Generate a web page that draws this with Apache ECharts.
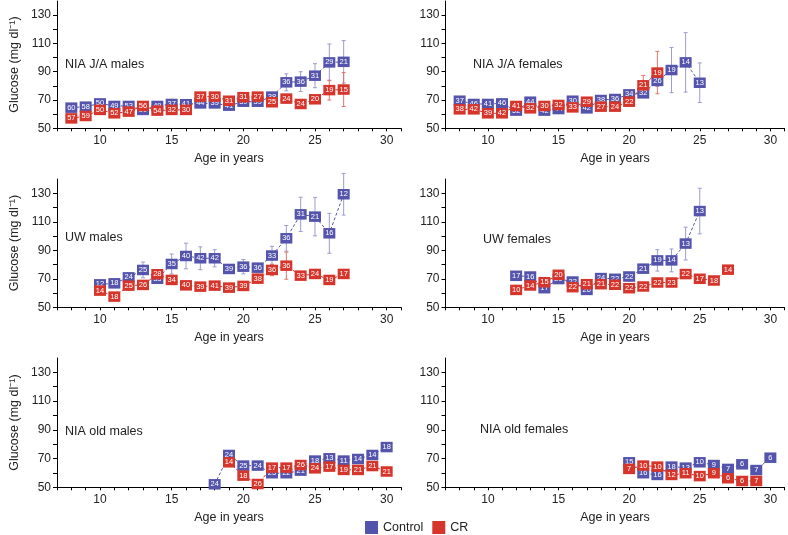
<!DOCTYPE html>
<html><head><meta charset="utf-8">
<script src="https://cdn.jsdelivr.net/npm/echarts@6/dist/echarts.min.js"></script>
<style>html,body{margin:0;padding:0;background:#fff}#c{width:788px;height:535px}</style>
</head><body><div id="c"></div>
<script>
// ---------- DATA ----------
// NIA J/A males
const njamAges = [8,9,10,11,12,13,14,15,16,17,18,19,20,21,22,23,24,25,26,27];
const njamCtrl = [64.6,65.3,67.6,65.8,65.8,63,65.8,67.2,67,67.6,67.6,66,68.8,68.8,72.4,82.5,83,87.2,96.6,97];
const njamCtrlN = [60,58,50,49,53,50,49,37,41,44,39,41,39,39,38,36,36,31,29,21];
const njamCtrlErr = [2,2,2,2,2,2,2,2,2,2,2,2,2,2,3,6,7,8.5,13,15];
const njamCR = [57,58.7,63,60.6,61.8,65.8,62.5,63,63,72.4,72.4,69.5,72,72.4,68.4,71,67.2,70.5,77,77.4];
const njamCRN = [57,59,50,52,47,56,54,32,30,37,30,31,31,27,25,24,24,20,19,15];
const njamCRErr = [2,2,2,2,2,2,2,2,2,2,2,2,2,2,2,3,3,2.5,7,12];

// NIA J/A females
const njafAges = [8,9,10,11,12,13,14,15,16,17,18,19,20,21,22,23,24,25];
const njafCtrl = [69.5,67.2,67.2,67.6,62.5,68.8,62.5,63.6,69.5,64.1,70,70.7,74,74.7,83.5,91.2,96.6,82.2];
const njafCtrlN = [37,46,41,46,52,44,42,44,30,42,38,36,34,32,26,19,14,13];
const njafCtrlErr = [2,2,3,2,2,2,2,2,2,2,2,2,2,2.5,4,16,21,14];
const njafCR = [63.4,63.4,60.6,60.6,65.8,64.1,65.8,66.5,64.8,68.8,65.3,65.3,68.8,80.4,89.4,null,null,null];
const njafCRN = [38,42,39,42,41,32,30,32,33,29,27,24,22,21,19,null,null,null];
const njafCRErr = [2,2,2,2,2,2,2,2,2,2,2,2,2,7,15,null,null,null];

// UW males
const uwmAges = [10,11,12,13,14,15,16,17,18,19,20,21,22,23,24,25,26,27];
const uwmCtrl = [66.1,66.8,71,76.2,70,80.4,86,84.4,84.4,76.9,78.5,77.8,86.3,98.4,115.2,113.6,101.9,129.3];
const uwmCtrlN = [12,18,24,25,33,35,40,42,42,39,36,36,33,36,31,21,16,12];
const uwmCtrlErr = [2,3,3,5.5,3,7,9,8,6,3,5,3,6.5,9,12,13.5,14,14.6];
const uwmCR = [61.7,57.5,65.2,65.7,73.2,69.2,65.4,64.5,65.2,63.8,65,70.1,76.2,79.2,72.2,73.4,69.2,73.4];
const uwmCRN = [14,18,25,26,28,34,40,39,41,39,39,38,36,36,33,24,19,17];
const uwmCRErr = [2,2,2,2,2,2,2,2,2,2,2,3,4,9.5,2.5,2.5,2.5,2];

// UW females
const uwfAges = [12,13,14,15,16,17,18,19,20,21,22,23,24,25,26,27];
const uwfCtrl = [72.1,71.6,63.4,69.8,68.1,62.2,70.5,70,71.6,77.1,82.9,82.9,94.7,117.5,null,null];
const uwfCtrlN = [17,16,17,20,22,20,24,22,22,21,19,14,13,13,null,null];
const uwfCtrlErr = [2,2,2,2,2,2,2,2,3,3,7.5,8,11.5,16,null,null];
const uwfCR = [62.2,65.3,67.6,72.8,64.1,66.2,66.2,65.8,63.4,64.6,67.4,67.4,73.3,70,68.8,76.4];
const uwfCRN = [10,14,15,20,22,21,21,22,22,22,22,23,22,17,18,14];
const uwfCRErr = [2,2,2,2,2,2,2,2,2,2,2,2,3,2,2,2];

// NIA old males
const nomAges = [18,19,20,21,22,23,24,25,26,27,28,29,30];
const nomCtrl = [52.1,72.5,65.1,65.1,59.8,59.8,61.6,68.6,70.2,68.6,69.7,72.5,78];
const nomCtrlN = [24,24,25,24,25,22,21,18,13,11,14,14,18];
const nomCtrlErr = [2,2,2,2,2,2,2,2,2,2,2,3,3];
const nomCR = [null,67.4,58.1,52.3,63.7,63.7,65.5,63.2,64.4,62.1,62.1,64.8,61];
const nomCRN = [null,14,18,26,17,17,26,24,17,19,21,21,21];
const nomCRErr = [null,2,2,2,2,2,2,2,2,2,2,2,2];

// NIA old females
const nofAges = [20,21,22,23,24,25,26,27,28,29,30];
const nofCtrl = [67.4,59.8,58.6,64.4,63.7,67.4,65.5,62.8,66,62,70.6];
const nofCtrlN = [15,16,16,18,13,10,9,7,6,7,6];
const nofCtrlErr = [2,2,2,2,2,2,2,2,2,2,2];
const nofCR = [62.8,65.1,64.4,58.6,59.8,57.8,59.8,56.3,54.4,54.4,null];
const nofCRN = [7,10,10,12,11,10,9,6,6,7,null];
const nofCRErr = [2,3,2,2,2,2,2,2,2,2,null];

const panelTitles = ['NIA J/A males','NIA J/A females','UW males','UW females','NIA old males','NIA old females'];
const xTickLabels = [10,15,20,25,30];
const yTickLabels = [50,70,90,110,130];

// ---------- BUILD ----------
const panels = [
  [njamAges,njamCtrl,njamCtrlN,njamCtrlErr,njamCR,njamCRN,njamCRErr],
  [njafAges,njafCtrl,njafCtrlN,njafCtrlErr,njafCR,njafCRN,njafCRErr],
  [uwmAges,uwmCtrl,uwmCtrlN,uwmCtrlErr,uwmCR,uwmCRN,uwmCRErr],
  [uwfAges,uwfCtrl,uwfCtrlN,uwfCtrlErr,uwfCR,uwfCRN,uwfCRErr],
  [nomAges,nomCtrl,nomCtrlN,nomCtrlErr,nomCR,nomCRN,nomCRErr],
  [nofAges,nofCtrl,nofCtrlN,nofCtrlErr,nofCR,nofCRN,nofCRErr]
];
const BLUE = '#5454ac', RED = '#d6352b', BLUE_E = '#9c9ccf', RED_E = '#e0766c';
const FONT = "'Liberation Sans', Arial, Helvetica, sans-serif";
const cols = [{left:57, width:344},{left:445.5, width:339}];
const rows = [{top:1, height:127.3},{top:179, height:128.3},{top:358, height:129.3}];
const titlePos = [[65,66],[473,66],[65,239],[483,241],[65,433],[480,431]];

const grids=[], xAxes=[], yAxes=[], series=[], graphics=[];
function errBar(color){
  return function(params, api){
    const x = api.value(0);
    const lo = api.coord([x, api.value(1)]);
    const hi = api.coord([x, api.value(2)]);
    const c = 2, st = {stroke: color, lineWidth: 1};
    return {type:'group', children:[
      {type:'line', shape:{x1:lo[0],y1:lo[1],x2:hi[0],y2:hi[1]}, style:st},
      {type:'line', shape:{x1:hi[0]-c,y1:hi[1],x2:hi[0]+c,y2:hi[1]}, style:st},
      {type:'line', shape:{x1:lo[0]-c,y1:lo[1],x2:lo[0]+c,y2:lo[1]}, style:st}
    ]};
  };
}
panels.forEach((p,i)=>{
  const col = cols[i%2], row = rows[Math.floor(i/2)];
  grids.push({left:col.left, width:col.width, top:row.top, height:row.height, containLabel:false});
  xAxes.push({type:'value', gridIndex:i, min:7, max:31, interval:1,
    name:'Age in years', nameLocation:'middle', nameGap:24,
    nameTextStyle:{fontSize:12.5, color:'#222', fontFamily:FONT},
    axisLine:{lineStyle:{color:'#000', width:1}},
    axisTick:{length:3, lineStyle:{color:'#000'}},
    axisLabel:{margin:6, fontSize:12, color:'#222', fontFamily:FONT,
      formatter:v=> xTickLabels.indexOf(v)>=0 ? String(v) : ''},
    splitLine:{show:false}});
  yAxes.push({type:'value', gridIndex:i, min:50, max:140, interval:10,
    name: i%2===0 ? 'Glucose (mg dl\u207B\u00B9)' : '', nameLocation:'middle', nameGap:36, nameRotate:90,
    nameTextStyle:{fontSize:12.5, color:'#222', fontFamily:FONT},
    axisLine:{show:true, lineStyle:{color:'#000', width:1}},
    axisTick:{show:true, length:4, lineStyle:{color:'#000'}, customValues:[50,60,70,80,90,100,110,120,130]},
    axisLabel:{margin:6, fontSize:12, color:'#222', fontFamily:FONT, customValues:yTickLabels,
      formatter:v=> yTickLabels.indexOf(v)>=0 ? String(v) : ''},
    splitLine:{show:false}});
  const [ages, c, cn, ce, r, rn, re] = p;
  const mk = (vals, ns)=> ages.map((a,j)=> vals[j]==null ? null : [a, vals[j], ns[j]]).filter(d=>d);
  const mkE = (vals, errs)=> ages.map((a,j)=> vals[j]==null ? null : [a, vals[j]-errs[j], vals[j]+errs[j]]).filter(d=>d);
  series.push({type:'custom', name:'ctrlErr'+i, xAxisIndex:i, yAxisIndex:i, renderItem:errBar(BLUE_E),
    data:mkE(c,ce), encode:{x:0,y:[1,2]}, clip:false, z:1, silent:true});
  series.push({type:'custom', name:'crErr'+i, xAxisIndex:i, yAxisIndex:i, renderItem:errBar(RED_E),
    data:mkE(r,re), encode:{x:0,y:[1,2]}, clip:false, z:1, silent:true});
  [[ 'Control', c, cn, BLUE, 3],[ 'CR', r, rn, RED, 4]].forEach(([nm, vals, ns, col2, z])=>{
    series.push({type:'line', name:nm, xAxisIndex:i, yAxisIndex:i, data:mk(vals, ns),
      symbol:'rect', symbolSize:[12,10.5], showAllSymbol:true, clip:false, z:z,
      itemStyle:{color:col2}, lineStyle:{color:col2, width:1, type:[3,2]},
      label:{show:true, position:'inside', formatter:pp=>String(pp.data[2]), color:'#fff', fontSize:7.5, fontFamily:FONT},
      emphasis:{disabled:true}, silent:true});
  });
  graphics.push({type:'text', left:titlePos[i][0], top:titlePos[i][1]-8,
    style:{text:panelTitles[i], fontSize:12.5, fill:'#222', fontFamily:FONT}});
});

const chart = echarts.init(document.getElementById('c'), null, {renderer:'canvas'});
chart.setOption({
  animation:false,
  textStyle:{fontFamily:FONT},
  grid:grids, xAxis:xAxes, yAxis:yAxes, series:series, graphic:graphics,
  legend:{data:[{name:'Control', icon:'rect'},{name:'CR', icon:'rect'}], left:365, top:521, padding:0,
    itemWidth:13, itemHeight:13, itemGap:9, selectedMode:false,
    textStyle:{fontSize:12.5, color:'#222', fontFamily:FONT}}
});
</script></body></html>
